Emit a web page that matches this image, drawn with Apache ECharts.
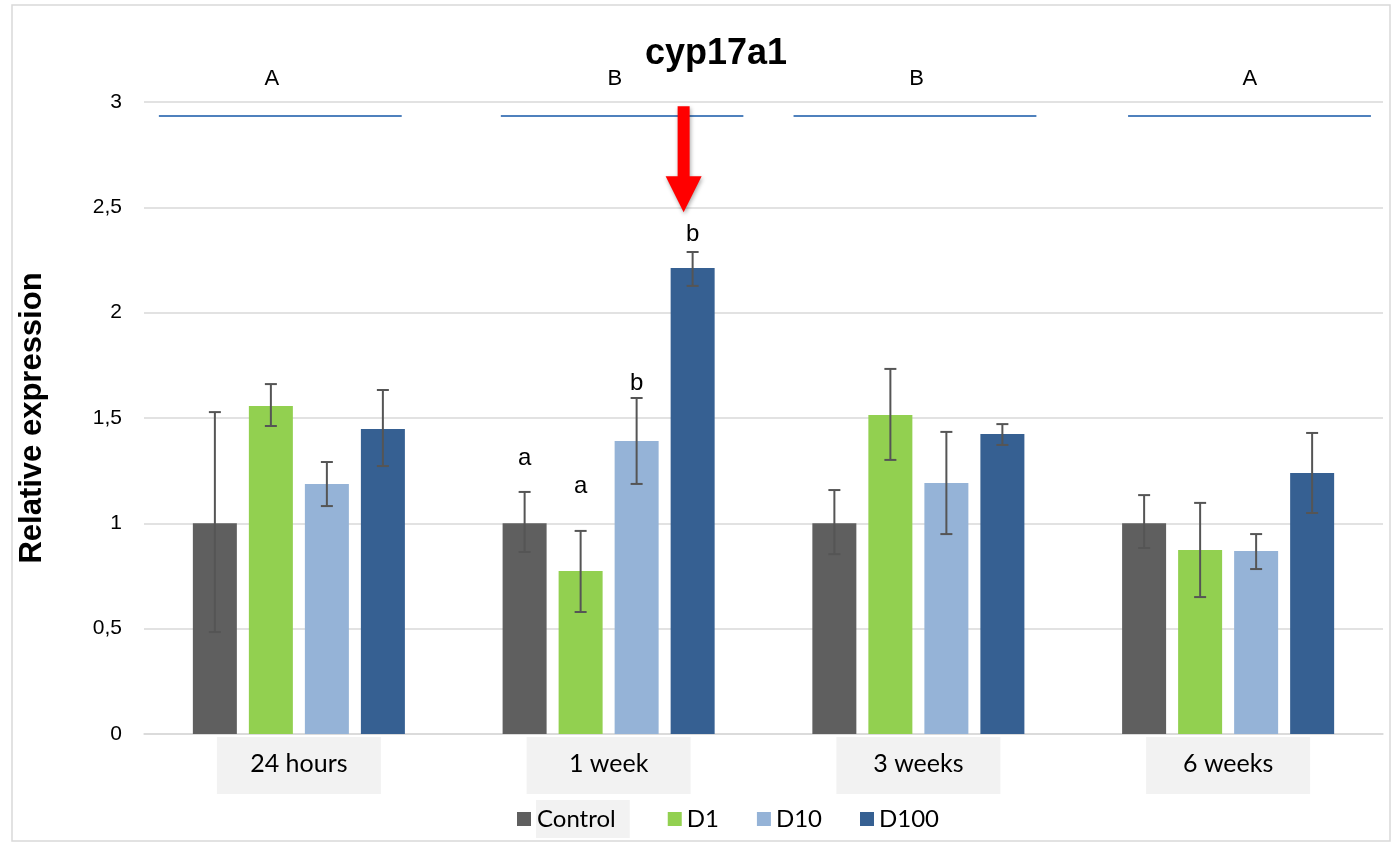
<!DOCTYPE html>
<html>
<head>
<meta charset="utf-8">
<script src="https://cdn.jsdelivr.net/npm/echarts@6/dist/echarts.min.js"></script>
<style>
body { margin: 0; background: #fff; }
#main { width: 1394px; height: 846px; }
</style>
</head>
<body>
<div id="main"></div>
<script>
var categories = ['24 hours', '1 week', '3 weeks', '6 weeks'];
var seriesNames = ['Control', 'D1', 'D10', 'D100'];
var colors = ['#5f5f5f', '#92d050', '#95b3d7', '#366092'];
var yTicks = [0, 0.5, 1, 1.5, 2, 2.5, 3];

var controlVal = [1.0, 1.0, 1.0, 1.0];
var d1Val = [1.557, 0.774, 1.514, 0.873];
var d10Val = [1.187, 1.391, 1.191, 0.869];
var d100Val = [1.448, 2.212, 1.424, 1.239];

// error bars [low, high]
var controlErr = [[0.484, 1.528], [0.864, 1.149], [0.854, 1.158], [0.883, 1.134]];
var d1Err = [[1.462, 1.661], [0.579, 0.964], [1.301, 1.733], [0.650, 1.097]];
var d10Err = [[1.082, 1.291], [1.187, 1.595], [0.949, 1.434], [0.783, 0.949]];
var d100Err = [[1.272, 1.633], [2.127, 2.288], [1.372, 1.471], [1.049, 1.429]];

// group letters (A/B) and the blue lines under them
var groupLetters = ['A', 'B', 'B', 'A'];
var groupLetterShift = [-0.087, 0.02, -0.006, 0.07];
var groupLetterValue = 3.11;
var groupLineSpan = [[-0.452, 0.332], [-0.348, 0.435], [-0.403, 0.381], [-0.323, 0.461]];
var groupLineValue = 2.933;

// letters above the bars: [category, series, letter, value]
var barLetters = [[1, 0, 'a', 1.31], [1, 1, 'a', 1.176], [1, 2, 'b', 1.665], [1, 3, 'b', 2.373]];

// red arrow: [category, series, shaftTop, headTop, tip]
var arrowData = [[1, 3, 2.98, 2.648, 2.477]];

var barW = 44;
var barStep = 56;

var allVals = [controlVal, d1Val, d10Val, d100Val];
var allErr = [controlErr, d1Err, d10Err, d100Err];

function barOffset(s) {
	return (s - 1.5) * barStep;
}

var errData = [];
for (var s = 0; s < allErr.length; s++) {
	for (var i = 0; i < categories.length; i++) {
		errData.push([i, s, allErr[s][i][0], allErr[s][i][1]]);
	}
}

var series = [];
for (var s = 0; s < seriesNames.length; s++) {
	series.push({
		name: seriesNames[s],
		type: 'bar',
		data: allVals[s],
		barWidth: barW,
		barGap: '27.3%',
		itemStyle: { color: colors[s] }
	});
}

// error bars
series.push({
	type: 'custom',
	clip: false,
	silent: true,
	z: 5,
	data: errData,
	encode: { x: 0, y: 3 },
	renderItem: function (params, api) {
		var off = barOffset(api.value(1));
		var lo = api.coord([api.value(0), api.value(2)]);
		var hi = api.coord([api.value(0), api.value(3)]);
		var x = lo[0] + off;
		var st = { stroke: '#555555', lineWidth: 2 };
		return {
			type: 'group',
			children: [
				{ type: 'line', shape: { x1: x, y1: lo[1], x2: x, y2: hi[1] }, style: st },
				{ type: 'line', shape: { x1: x - 6, y1: lo[1], x2: x + 6, y2: lo[1] }, style: st },
				{ type: 'line', shape: { x1: x - 6, y1: hi[1], x2: x + 6, y2: hi[1] }, style: st }
			]
		};
	}
});

// letters on bars
series.push({
	type: 'custom',
	clip: false,
	silent: true,
	z: 6,
	data: barLetters,
	encode: { x: 0, y: 3 },
	renderItem: function (params, api) {
		var p = api.coord([api.value(0), api.value(3)]);
		return {
			type: 'text',
			x: p[0] + barOffset(api.value(1)),
			y: p[1],
			style: {
				text: barLetters[params.dataIndex][2],
				fill: '#000',
				font: '24px "Liberation Sans", Arial, sans-serif',
				align: 'center',
				verticalAlign: 'middle'
			}
		};
	}
});

// group letters + blue lines
var groupData = [];
for (var i = 0; i < categories.length; i++) {
	groupData.push([i, groupLineValue]);
}
series.push({
	type: 'custom',
	clip: false,
	silent: true,
	z: 6,
	data: groupData,
	encode: { x: 0, y: 1 },
	renderItem: function (params, api) {
		var i = params.dataIndex;
		var c = api.coord([i, groupLineValue]);
		var w = api.size([1, 0])[0];
		var t = api.coord([i, groupLetterValue]);
		return {
			type: 'group',
			children: [
				{
					type: 'line',
					shape: { x1: c[0] + groupLineSpan[i][0] * w, y1: c[1], x2: c[0] + groupLineSpan[i][1] * w, y2: c[1] },
					style: { stroke: '#4f81bd', lineWidth: 2 }
				},
				{
					type: 'text',
					x: t[0] + groupLetterShift[i] * w,
					y: t[1],
					style: {
						text: groupLetters[i],
						fill: '#000',
						font: '22px "Liberation Sans", Arial, sans-serif',
						align: 'center',
						verticalAlign: 'middle'
					}
				}
			]
		};
	}
});

// red arrow
series.push({
	type: 'custom',
	clip: false,
	silent: true,
	z: 7,
	data: arrowData,
	encode: { x: 0, y: 2 },
	renderItem: function (params, api) {
		var top = api.coord([api.value(0), api.value(2)]);
		var head = api.coord([api.value(0), api.value(3)]);
		var tip = api.coord([api.value(0), api.value(4)]);
		var x = top[0] + barOffset(api.value(1)) - 9;
		return {
			type: 'polygon',
			shape: {
				points: [
					[x - 6, top[1]], [x + 6, top[1]], [x + 6, head[1]], [x + 18, head[1]],
					[x, tip[1]], [x - 18, head[1]], [x - 6, head[1]]
				]
			},
			style: {
				fill: '#ff0000',
				shadowBlur: 4,
				shadowOffsetX: 1,
				shadowOffsetY: 2,
				shadowColor: 'rgba(0,0,0,0.35)'
			}
		};
	}
});

var myChart = echarts.init(document.getElementById('main'));

var option = {
	backgroundColor: '#fff',
	animation: false,
	title: {
		text: 'cyp17a1',
		left: 640,
		top: 31,
		textStyle: {
			fontFamily: '"Liberation Sans", Arial, sans-serif',
			fontSize: 36,
			fontWeight: 'bold',
			color: '#000'
		}
	},
	graphic: [{
		type: 'rect',
		shape: { x: 12, y: 5, width: 1378, height: 836 },
		style: { fill: 'none', stroke: '#d9d9d9', lineWidth: 1.5 },
		silent: true
	}],
	legend: {
		left: 512,
		top: 795,
		icon: 'rect',
		itemWidth: 14,
		itemHeight: 14,
		itemGap: 38,
		textStyle: {
			fontFamily: 'Lato, "Open Sans", sans-serif',
			fontSize: 24,
			color: '#000'
		},
		data: [
			{
				name: 'Control',
				textStyle: {
					backgroundColor: '#f2f2f2',
					padding: [2, 14, 12, 1]
				}
			},
			{ name: 'D1' },
			{ name: 'D10' },
			{ name: 'D100' }
		]
	},
	grid: {
		left: 144,
		right: 11,
		top: 102,
		bottom: 112
	},
	xAxis: {
		type: 'category',
		data: categories,
		axisLine: { show: true, lineStyle: { color: '#d9d9d9', width: 1.5 } },
		axisTick: { show: false },
		axisLabel: {
			margin: 3,
			fontFamily: 'Lato, "Open Sans", sans-serif',
			fontSize: 25,
			color: '#000',
			backgroundColor: '#f2f2f2',
			width: 164,
			height: 30,
			align: 'center',
			padding: [14, 0, 13, 0]
		}
	},
	yAxis: {
		type: 'value',
		min: 0,
		max: 3,
		interval: 0.5,
		axisLine: { show: false },
		axisTick: { show: false },
		splitLine: { lineStyle: { color: '#d9d9d9', width: 1.5 } },
		axisLabel: {
			margin: 22,
			fontFamily: '"Liberation Sans", Arial, sans-serif',
			fontSize: 21,
			color: '#000',
			formatter: function (v) {
				return String(v).replace('.', ',');
			}
		},
		name: 'Relative expression',
		nameLocation: 'middle',
		nameGap: 96,
		nameTextStyle: {
			fontFamily: '"Liberation Sans", Arial, sans-serif',
			fontSize: 31,
			fontWeight: 'bold',
			color: '#000'
		}
	},
	series: series
};
myChart.setOption(option);
</script>
</body>
</html>
